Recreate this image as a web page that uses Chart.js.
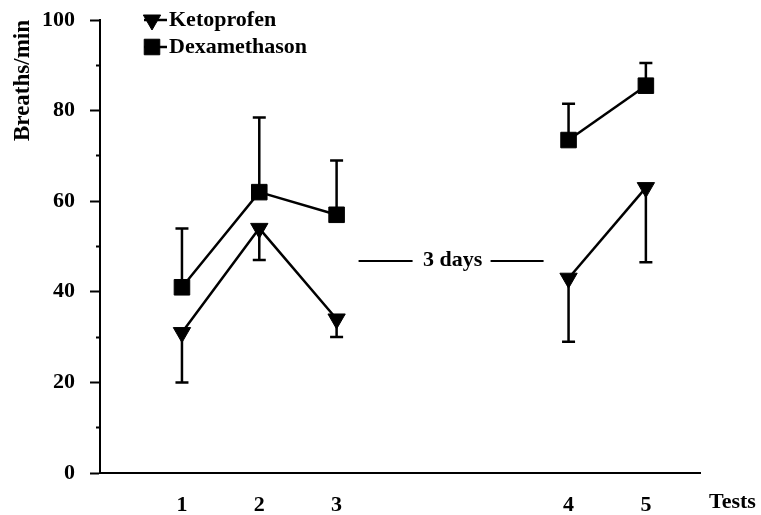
<!DOCTYPE html>
<html>
<head>
<meta charset="utf-8">
<script src="https://cdn.jsdelivr.net/npm/chart.js@4.4.1/dist/chart.umd.min.js"></script>
<style>
  html, body { margin: 0; padding: 0; background: #fff; }
</style>
</head>
<body>
<canvas id="breaths-canvas" width="761" height="515"></canvas>
<script>
// Breathing rate for each test, two treatment groups
const testLabels = ['1', '2', '3', '4', '5'];
// slot of each test on the x axis (tests 4 and 5 come after a 3 day pause)
const testSlots = [1, 2, 3, 6, 7];
const ketoprofen = [31, 54, 34, 43, 63];
const ketoprofenLow = [20, 47, 30, 29, 46.5];
const dexamethason = [41, 62, 57, 73.5, 85.5];
const dexamethasonHigh = [54, 78.5, 69, 81.5, 90.5];
const majorTicks = [0, 20, 40, 60, 80, 100];

const FONT = "'Liberation Serif', 'Times New Roman', serif";
const black = '#000';

function toPoints(values) {
	return testSlots.map((s, i) => ({ x: s, y: values[i] }));
}

// no line across the 3 day pause
const gapSegment = {
	borderColor: c => (c.p1.parsed.x - c.p0.parsed.x > 1 ? 'rgba(0,0,0,0)' : black)
};

// Draw one error whisker per point (down for Ketoprofen, up for Dexamethason)
const errorBars = {
	id: 'errorBars',
	beforeDatasetsDraw(chart) {
		const ctx = chart.ctx;
		const xs = chart.scales.x;
		const ys = chart.scales.y;
		ctx.save();
		ctx.strokeStyle = black;
		ctx.lineWidth = 2.5;
		chart.data.datasets.forEach(ds => {
			ds.data.forEach((p, j) => {
				const px = xs.getPixelForValue(p.x);
				const py = ys.getPixelForValue(p.y);
				const ey = ys.getPixelForValue(ds.errorEnds[j]);
				ctx.beginPath();
				ctx.moveTo(px, py);
				ctx.lineTo(px, ey);
				ctx.moveTo(px - 6.5, ey);
				ctx.lineTo(px + 6.5, ey);
				ctx.stroke();
			});
		});
		ctx.restore();
	}
};

// Legend, "3 days" note and axis name "Tests"
const extras = {
	id: 'extras',
	afterDraw(chart) {
		const ctx = chart.ctx;
		const xs = chart.scales.x;
		const ys = chart.scales.y;
		ctx.save();
		ctx.fillStyle = black;
		ctx.strokeStyle = black;
		ctx.font = 'bold 22px ' + FONT;
		ctx.textBaseline = 'middle';

		// legend
		const rows = [20, 47];
		chart.data.datasets.forEach((ds, i) => {
			const mx = 152;
			const my = rows[i];
			ctx.lineWidth = 2.5;
			ctx.beginPath();
			ctx.moveTo(mx - 8, my);
			ctx.lineTo(mx + 15, my);
			ctx.stroke();
			ctx.lineWidth = 1;
			Chart.helpers.drawPoint(ctx, {
				pointStyle: ds.pointStyle,
				rotation: ds.pointRotation || 0,
				radius: ds.pointRadius,
				borderWidth: 1
			}, mx, my);
			ctx.textAlign = 'left';
			ctx.fillText(ds.label, 169, my);
		});

		// 3 days gap note
		const cx = xs.getPixelForValue(4.5);
		const cy = ys.getPixelForValue(47);
		ctx.textAlign = 'center';
		ctx.fillText('3 days', cx, cy);
		ctx.lineWidth = 2;
		ctx.beginPath();
		ctx.moveTo(cx - 94, cy + 1);
		ctx.lineTo(cx - 40, cy + 1);
		ctx.moveTo(cx + 38, cy + 1);
		ctx.lineTo(cx + 91, cy + 1);
		ctx.stroke();

		// x axis name
		ctx.textAlign = 'left';
		ctx.fillText('Tests', xs.right + 9, xs.top + 29);
		ctx.restore();
	}
};

const ctx = document.getElementById('breaths-canvas').getContext('2d');

const chart = new Chart(ctx, {
	type: 'line',
	data: {
		datasets: [
			{
				label: 'Ketoprofen',
				data: toPoints(ketoprofen),
				errorEnds: ketoprofenLow,
				borderColor: black,
				backgroundColor: black,
				borderWidth: 2.5,
				pointStyle: 'triangle',
				pointRotation: 180,
				pointRadius: 10,
				pointBorderWidth: 1,
				tension: 0,
				segment: gapSegment
			},
			{
				label: 'Dexamethason',
				data: toPoints(dexamethason),
				errorEnds: dexamethasonHigh,
				borderColor: black,
				backgroundColor: black,
				borderWidth: 2.5,
				pointStyle: 'rect',
				pointRadius: 11,
				pointBorderWidth: 1,
				tension: 0,
				segment: gapSegment
			}
		]
	},
	options: {
		responsive: false,
		animation: false,
		layout: {
			padding: { left: 0, right: 61, top: 20, bottom: 0 }
		},
		scales: {
			x: {
				type: 'linear',
				min: -0.06,
				max: 7.7,
				afterBuildTicks: scale => {
					scale.ticks = testSlots.map(v => ({ value: v }));
				},
				afterFit: scale => {
					scale.height = 42;
					scale.paddingLeft = 0;
					scale.paddingRight = 0;
				},
				ticks: {
					autoSkip: false,
					maxRotation: 0,
					padding: 11,
					color: black,
					font: { family: FONT, size: 22, weight: 'bold' },
					callback: v => testLabels[testSlots.indexOf(v)]
				},
				grid: { display: false },
				border: { display: true, color: black, width: 2 }
			},
			y: {
				min: 0,
				max: 100,
				afterFit: scale => {
					scale.width = 100;
					scale.paddingTop = 0;
					scale.paddingBottom = 0;
				},
				ticks: {
					stepSize: 10,
					padding: 15,
					color: black,
					font: { family: FONT, size: 22, weight: 'bold' },
					callback: v => majorTicks.includes(v) ? v : ''
				},
				grid: {
					drawOnChartArea: false,
					tickLength: 10,
					tickWidth: 2,
					tickColor: black,
					tickBorderDash: c => majorTicks.includes(c.tick.value) ? [] : [0, 6, 4, 20]
				},
				border: { color: black, width: 2 },
				title: {
					display: true,
					text: 'Breaths/min',
					align: 'end',
					color: black,
					font: { family: FONT, size: 23, weight: 'bold' },
					padding: { top: 9, bottom: 0 }
				}
			}
		},
		plugins: {
			legend: { display: false },
			tooltip: { enabled: false }
		}
	},
	plugins: [errorBars, extras]
});
</script>
</body>
</html>
